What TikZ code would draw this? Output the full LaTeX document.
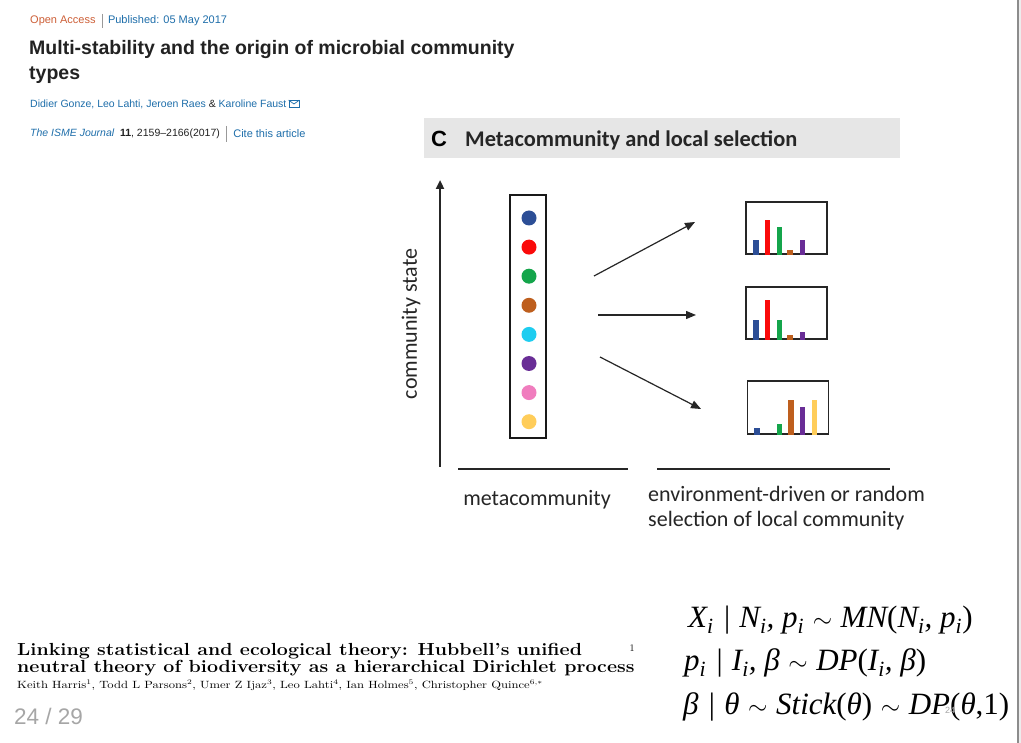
\documentclass[tikz,border=0pt]{standalone}
\usepackage{fontspec}
\usepackage{tikz}
\usetikzlibrary{positioning,arrows.meta,calc}
\newfontfamily\websans{Liberation Sans}
\newfontfamily\figsans{Carlito}
\newfontfamily\eqfont{Liberation Serif}
\definecolor{accessorange}{RGB}{205,95,55}
\definecolor{linkblue}{RGB}{30,110,170}
\definecolor{titledark}{RGB}{34,34,34}
\definecolor{headergray}{RGB}{230,230,230}
\definecolor{dotblue}{RGB}{44,78,150}
\definecolor{dotred}{RGB}{250,10,10}
\definecolor{dotgreen}{RGB}{20,165,75}
\definecolor{dotbrown}{RGB}{190,95,30}
\definecolor{dotcyan}{RGB}{30,205,240}
\definecolor{dotpurple}{RGB}{105,45,150}
\definecolor{dotpink}{RGB}{240,125,190}
\definecolor{dotyellow}{RGB}{255,205,90}
\newcommand\eqsb[1]{\textsubscript{#1}}
\newcommand\eqtil{\;$\sim$\;}
\newcommand\eqbar{\;|\;}
\newcommand\wide[2][1.2]{\scalebox{#1}[1]{#2}}

\begin{document}
\begin{tikzpicture}[
    x=1pt, y=-1pt,
    txt/.style={inner sep=0pt, anchor=west},
    webtxt/.style={txt, font=\websans\fontsize{11}{13}\selectfont},
    figtxt/.style={inner sep=0pt, font=\figsans\fontsize{22}{26}\selectfont, text=black!85},
    axisline/.style={line width=2.6pt, draw=black!85},
    arrow/.style={-{Triangle[length=10pt, width=8pt]}, line width=1.2pt, draw=black!85},
    metabox/.style={rectangle, draw=black!90, line width=1.8pt, minimum width=36pt, minimum height=243pt, inner sep=0pt},
    chart/.style={rectangle, draw=black!85, line width=1.6pt, minimum width=81pt, minimum height=52pt, inner sep=0pt},
    dot/.style={circle, fill=#1, minimum size=15pt, inner sep=0pt},
    eqtxt/.style={txt, font=\eqfont\itshape\fontsize{31}{34}\selectfont}
]
\useasboundingbox (0,0) rectangle (1021,743);
\fill[white] (0,0) rectangle (1021,743);
\fill[black!7] (1018,0) rectangle (1021,743);
\draw[black!45, line width=1.5pt] (1018,0) -- (1018,743);

% article header
\node[webtxt, text=accessorange] (access) at (30,21) {Open Access};
\node[webtxt, text=linkblue, right=12pt of access] (published) {Published: 05 May 2017};
\draw[black!40, line width=0.6pt] ($(access.east)+(6,-7)$) -- ($(access.east)+(6,7)$);
\node[txt, font=\websans\bfseries\fontsize{19.5}{25}\selectfont, text=titledark, align=left, anchor=north west] (title) at (29,40)
  {Multi-stability and the origin of microbial community\\types};
\node[webtxt, font=\websans\fontsize{10.5}{13}\selectfont, text=linkblue] (authors) at (30,104) {Didier Gonze, Leo Lahti, Jeroen Raes {\color{titledark}\&} Karoline Faust};
\node[right=2pt of authors, draw=linkblue, line width=0.7pt, minimum width=10pt, minimum height=7pt, inner sep=0pt] (mail) {};
\draw[linkblue, line width=0.7pt] (mail.north west) -- (mail.center) -- (mail.north east);
\node[webtxt, font=\websans\fontsize{10.5}{13}\selectfont, text=titledark] (journal) at (30,134)
  {{\color{linkblue}\itshape The ISME Journal}\ \ \textbf{11}, 2159–2166(2017)};
\node[webtxt, text=linkblue, right=13pt of journal] (cite) {Cite this article};
\draw[black!40, line width=0.6pt] ($(journal.east)+(6.5,-8)$) -- ($(journal.east)+(6.5,8)$);

% figure panel
\fill[headergray] (424,118) rectangle (900,158);
\node[inner sep=0pt, font=\websans\bfseries\fontsize{22}{24}\selectfont] (panel) at (439,139) {C};
\node[txt, font=\figsans\bfseries\fontsize{22.4}{24}\selectfont, text=black!85] (paneltitle) at (465,140) {Metacommunity and local selection};

\coordinate (ax0) at (440,467);
\coordinate (ax1) at (440,180);
\draw[axisline, -{Triangle[length=9pt, width=8pt]}] (ax0) -- (ax1);
\node[figtxt, rotate=90] (ylabel) at (411,324) {community state};

\node[metabox] (meta) at (528,316.5) {};
\foreach \c [count=\k] in {dotblue,dotred,dotgreen,dotbrown,dotcyan,dotpurple,dotpink,dotyellow}
  \node[dot=\c] (d\k) at (529,{218+(\k-1)*29.1}) {};

\coordinate (baseA0) at (458,469);
\coordinate (baseA1) at (628,469);
\coordinate (baseB0) at (657,469);
\coordinate (baseB1) at (890,469);
\draw[axisline, line width=2.2pt] (baseA0) -- (baseA1);
\draw[axisline, line width=2.2pt] (baseB0) -- (baseB1);
\node[figtxt] (metalabel) at (537,500) {metacommunity};
\node[figtxt, anchor=west] (sellabelA) at (648,494) {environment-driven or random};
\node[figtxt, anchor=west] (sellabelB) at (648,521) {selection of local community};

% selection arrows
\coordinate (upA) at (594,276);
\coordinate (upB) at (695,222);
\coordinate (midA) at (598,315);
\coordinate (midB) at (696,315);
\coordinate (lowA) at (600,357);
\coordinate (lowB) at (701,409);
\draw[arrow] (upA) -- (upB);
\draw[arrow] (midA) -- (midB);
\draw[arrow] (lowA) -- (lowB);

% local communities
\node[chart] (chartA) at (786.5,228) {};
\node[chart] (chartB) at (786.5,313) {};
\node[chart, minimum height=53pt] (chartC) at (788,407.5) {};
\foreach \bx/\bh/\bc in {10.7/14.7/dotblue, 22.3/34.7/dotred, 34/27.3/dotgreen, 44.7/5/dotbrown, 57.3/14.7/dotpurple}
  \fill[\bc] ($(chartA.south west)+(\bx-2.6,0)$) rectangle ++(5.2,-\bh);
\foreach \bx/\bh/\bc in {10.7/20/dotblue, 22.3/40/dotred, 34/20/dotgreen, 44.7/4.5/dotbrown, 57.3/8/dotpurple}
  \fill[\bc] ($(chartB.south west)+(\bx-2.6,0)$) rectangle ++(5.2,-\bh);
\foreach \bx/\bh/\bc in {10.3/7/dotblue, 33/11/dotgreen, 44.3/35/dotbrown, 56/28/dotpurple, 68/35/dotyellow}
  \fill[\bc] ($(chartC.south west)+(\bx-2.6,0)$) rectangle ++(5.2,-\bh);

% second paper
\node[txt, font=\bfseries\fontsize{17.5}{17}\selectfont, anchor=base west] (paperA) at (17,655)
  {\wide[1.12]{Linking statistical and ecological theory: Hubbell's unified}};
\node[txt, font=\bfseries\fontsize{17.5}{17}\selectfont, anchor=base west] (paperB) at (17,672)
  {\wide[1.12]{neutral theory of biodiversity as a hierarchical Dirichlet process}};
\node[inner sep=0pt, font=\fontsize{10}{10}\selectfont] (fnmark) at (632,648) {1};
\node[txt, font=\fontsize{10.5}{12}\selectfont, anchor=base west] (paperauthors) at (17,688)
  {\wide{Keith Harris$^1$, Todd L Parsons$^2$, Umer Z Ijaz$^3$, Leo Lahti$^4$, Ian Holmes$^5$, Christopher Quince$^{6,*}$}};
\node[txt, font=\websans\fontsize{22.5}{24}\selectfont, text=black!35] (pageno) at (14,716) {24 / 29};

% model equations
\node[eqtxt] (eqX) at (688,620) {X\eqsb{i}\eqbar N\eqsb{i}, p\eqsb{i}\eqtil MN{\upshape(}N\eqsb{i}, p\eqsb{i}{\upshape)}};
\node[eqtxt] (eqP) at (684,663) {p\eqsb{i}\eqbar I\eqsb{i}, β\eqtil DP{\upshape(}I\eqsb{i}, β{\upshape)}};
\node[eqtxt] (eqB) at (683,707) {β\eqbar θ\eqtil Stick{\upshape(}θ{\upshape)}\eqtil DP{\upshape(}θ{\upshape,1)}};
\node[inner sep=0pt, font=\websans\fontsize{9}{12}\selectfont, text=black!35] (ghost) at (950,710) {24};
\end{tikzpicture}
\end{document}
